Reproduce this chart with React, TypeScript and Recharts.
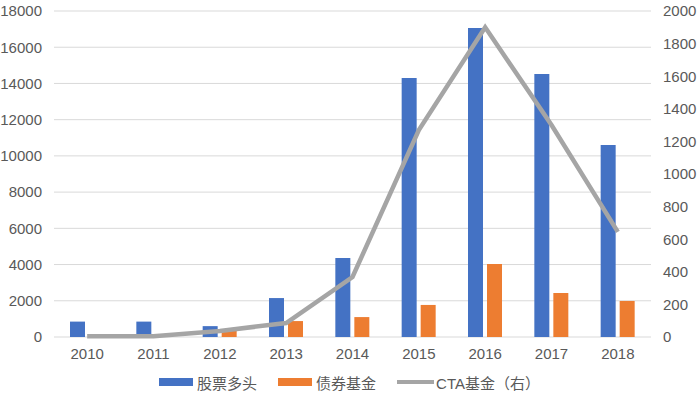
import React from 'react';
import {
  ComposedChart,
  Bar,
  Line,
  XAxis,
  YAxis,
  CartesianGrid,
  Legend,
} from 'recharts';

const years = ['2010', '2011', '2012', '2013', '2014', '2015', '2016', '2017', '2018'];
const stockLong = [850, 850, 600, 2150, 4360, 14300, 17060, 14520, 10600];
const bondFund = [0, 0, 350, 880, 1100, 1770, 4030, 2430, 1990];
const ctaFund = [5, 5, 37, 86, 368, 1270, 1900, 1300, 645];
const leftTicks = [0, 2000, 4000, 6000, 8000, 10000, 12000, 14000, 16000, 18000];
const rightTicks = [0, 200, 400, 600, 800, 1000, 1200, 1400, 1600, 1800, 2000];
const seriesNames = ['股票多头', '债券基金', 'CTA基金（右）'];

const BLUE = '#4472c4';
const ORANGE = '#ed7d31';
const GRAY = '#a5a5a5';
const TEXT = '#595959';
const FONT = '"Liberation Sans", "Noto Sans CJK SC", sans-serif';

const data = years.map((year, i) => ({
  year,
  stock: stockLong[i],
  bond: bondFund[i],
  cta: ctaFund[i],
}));

// Excel-style legend, kept in series order
const LegendContent = ({ payload }: any) => {
  const items = [...(payload || [])].sort(
    (a: any, b: any) => seriesNames.indexOf(a.value) - seriesNames.indexOf(b.value)
  );
  return (
    <div
      style={{
        display: 'flex',
        justifyContent: 'center',
        alignItems: 'center',
        height: 27,
        paddingTop: 3,
        paddingLeft: 2,
        boxSizing: 'border-box',
        fontFamily: FONT,
        fontSize: 15,
        color: TEXT,
      }}
    >
      {items.map((item: any) => {
        const isLine = item.value === seriesNames[2];
        return (
          <div
            key={item.value}
            style={{ display: 'flex', alignItems: 'center', marginRight: isLine ? 0 : 21 }}
          >
            {isLine ? (
              <div style={{ width: 37, height: 4, background: GRAY, marginRight: 2 }} />
            ) : (
              <div style={{ width: 34, height: 8, background: item.color, marginRight: 4 }} />
            )}
            <span>{item.value}</span>
          </div>
        );
      })}
    </div>
  );
};

export default function App() {
  const tickStyle = { fill: TEXT, fontSize: 15, fontFamily: FONT };
  return (
    <div style={{ position: 'absolute', left: 0, top: 0, background: '#fff' }}>
      <ComposedChart
        width={697}
        height={394}
        data={data}
        margin={{ top: 11, right: 0, bottom: 0, left: 0 }}
        barSize={15}
        barGap={4}
      >
        <CartesianGrid vertical={false} stroke="#d9d9d9" yAxisId="left" />
        <XAxis
          dataKey="year"
          axisLine={false}
          tickLine={false}
          tickSize={0}
          tickMargin={11}
          height={30}
          tick={tickStyle}
        />
        <YAxis
          yAxisId="left"
          orientation="left"
          domain={[0, 18000]}
          ticks={leftTicks}
          axisLine={false}
          tickLine={false}
          tickSize={0}
          tickMargin={12}
          width={54}
          tick={tickStyle}
        />
        <YAxis
          yAxisId="right"
          orientation="right"
          domain={[0, 2000]}
          ticks={rightTicks}
          axisLine={false}
          tickLine={false}
          tickSize={0}
          tickMargin={12}
          width={46}
          tick={tickStyle}
        />
        <Legend verticalAlign="bottom" height={27} content={<LegendContent />} />
        <Bar yAxisId="left" dataKey="stock" name={seriesNames[0]} fill={BLUE} isAnimationActive={false} />
        <Bar yAxisId="left" dataKey="bond" name={seriesNames[1]} fill={ORANGE} isAnimationActive={false} />
        <Line
          yAxisId="right"
          type="linear"
          dataKey="cta"
          name={seriesNames[2]}
          stroke={GRAY}
          strokeWidth={4.5}
          dot={false}
          activeDot={false}
          isAnimationActive={false}
        />
      </ComposedChart>
    </div>
  );
}
